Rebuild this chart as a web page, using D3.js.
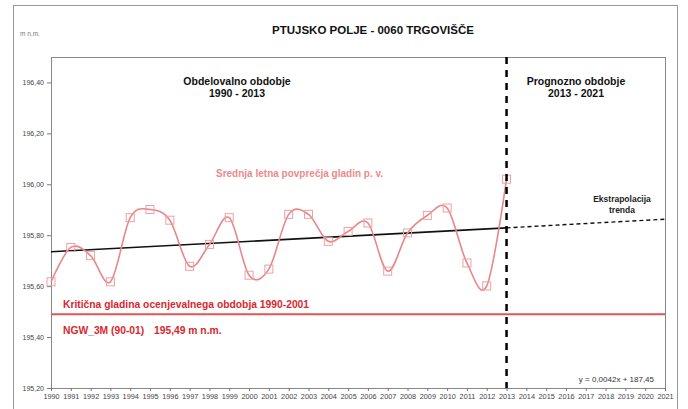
<html>
<head>
<script src="https://d3js.org/d3.v7.min.js"></script>
<style>
body { margin: 0; background: #fff; }
text { font-family: "Liberation Sans", Arial, sans-serif; }
.axis .domain { stroke: none; }
.axis line { stroke: #777; }
.axis text { fill: #444; }
</style>
</head>
<body>
<svg id="chart" width="688" height="409"></svg>
<script>
// annual mean groundwater levels (m n.m.)
const years = [1990, 1991, 1992, 1993, 1994, 1995, 1996, 1997, 1998, 1999, 2000, 2001,
               2002, 2003, 2004, 2005, 2006, 2007, 2008, 2009, 2010, 2011, 2012, 2013];
const levels = [195.617, 195.752, 195.720, 195.617, 195.869, 195.901, 195.859, 195.678,
                195.764, 195.869, 195.643, 195.667, 195.882, 195.882, 195.776, 195.815,
                195.848, 195.659, 195.809, 195.878, 195.907, 195.691, 195.601, 196.020];

// linear trend (observed part and extrapolation)
const trendYears = [1990, 2013];
const trendValues = [195.735, 195.829];
const extrapYears = [2013, 2021];
const extrapValues = [195.829, 195.863];

const criticalLevel = 195.49;
const splitYear = 2013;
const yTicks = [195.2, 195.4, 195.6, 195.8, 196.0, 196.2, 196.4];
const xTicks = d3.range(1990, 2022);

const svg = d3.select("svg#chart");
const margin = {top: 57, right: 23, bottom: 21, left: 51};
const width = +svg.attr("width");
const height = +svg.attr("height");
const chartWidth = width - margin.left - margin.right;
const chartHeight = height - margin.top - margin.bottom;

// outer frame
svg.append("rect")
    .attr("x", 13.5).attr("y", 5.5)
    .attr("width", 664).attr("height", 420)
    .attr("fill", "none").attr("stroke", "#999");

const xScale = d3.scaleLinear().domain([1990, 2021]).range([0, chartWidth]);
const yScale = d3.scaleLinear().domain([195.2, 196.5]).range([chartHeight, 0]);
const fmt = d => d3.format(".2f")(d).replace(".", ",");

const chartArea = svg.append("g")
    .attr("transform", `translate(${margin.left},${margin.top})`);

// plot area border
chartArea.append("rect")
    .attr("x", 0.5).attr("y", 0.5)
    .attr("width", chartWidth).attr("height", chartHeight)
    .attr("fill", "none").attr("stroke", "#888");

chartArea.append("g")
    .attr("class", "axis")
    .call(d3.axisLeft(yScale).tickValues(yTicks).tickSize(4).tickPadding(3).tickFormat(fmt))
    .selectAll("text").style("font-size", "7px");

chartArea.append("g")
    .attr("class", "axis")
    .attr("transform", `translate(0,${chartHeight})`)
    .call(d3.axisBottom(xScale).tickValues(xTicks).tickSize(3).tickPadding(3).tickFormat(d3.format("d")))
    .selectAll("text").style("font-size", "7.3px");

// critical level
chartArea.append("line")
    .attr("x1", 0).attr("x2", chartWidth)
    .attr("y1", yScale(criticalLevel)).attr("y2", yScale(criticalLevel))
    .attr("stroke", "#e05555").attr("stroke-width", 2);

// trend lines
const lineGen = d3.line()
    .x(d => xScale(d[0]))
    .y(d => yScale(d[1]));

chartArea.append("path")
    .attr("d", lineGen(d3.zip(trendYears, trendValues)))
    .attr("fill", "none").attr("stroke", "#111").attr("stroke-width", 1.6);

chartArea.append("path")
    .attr("d", lineGen(d3.zip(extrapYears, extrapValues)))
    .attr("fill", "none").attr("stroke", "#111").attr("stroke-width", 1.4)
    .attr("stroke-dasharray", "4,3");

// observed series
const smoothLine = d3.line()
    .x(d => xScale(d[0]))
    .y(d => yScale(d[1]))
    .curve(d3.curveCardinal.tension(0));

chartArea.append("path")
    .attr("d", smoothLine(d3.zip(years, levels)))
    .attr("fill", "none").attr("stroke", "#e8868a").attr("stroke-width", 1.6);

chartArea.selectAll("rect.pt")
    .data(d3.zip(years, levels))
    .join("rect")
    .attr("class", "pt")
    .attr("x", d => xScale(d[0]) - 4)
    .attr("y", d => yScale(d[1]) - 4)
    .attr("width", 8).attr("height", 8)
    .attr("fill", "none").attr("stroke", "#eea0a3").attr("stroke-width", 1);

// separator between periods
chartArea.append("line")
    .attr("x1", xScale(splitYear)).attr("x2", xScale(splitYear))
    .attr("y1", 0).attr("y2", chartHeight)
    .attr("stroke", "#000").attr("stroke-width", 2.5)
    .attr("stroke-dasharray", "7,6");

// annotations
let annotations = svg.append("g").attr("id", "annotations");

annotations.append("text")
    .attr("x", 20).attr("y", 36)
    .style("font-size", "6.5px").attr("fill", "#777")
    .text("m n.m.");

annotations.append("text")
    .attr("x", 373).attr("y", 34)
    .attr("text-anchor", "middle")
    .style("font-size", "11.5px").style("font-weight", "bold").attr("fill", "#111")
    .text("PTUJSKO POLJE - 0060 TRGOVIŠČE");

const periodLabels = [
    {x: 237, lines: ["Obdelovalno obdobje", "1990 - 2013"]},
    {x: 576, lines: ["Prognozno obdobje", "2013 - 2021"]}
];
periodLabels.forEach(p => {
    p.lines.forEach((t, i) => {
        annotations.append("text")
            .attr("x", p.x).attr("y", 85 + i * 12)
            .attr("text-anchor", "middle")
            .style("font-size", "10.5px").style("font-weight", "bold").attr("fill", "#111")
            .text(t);
    });
});

annotations.append("text")
    .attr("x", 216).attr("y", 177)
    .style("font-size", "10px").style("font-weight", "bold").attr("fill", "#ec8a8d")
    .text("Srednja letna povprečja gladin p. v.");

["Ekstrapolacija", "trenda"].forEach((t, i) => {
    annotations.append("text")
        .attr("x", 622).attr("y", 202 + i * 11)
        .attr("text-anchor", "middle")
        .style("font-size", "8.5px").style("font-weight", "bold").attr("fill", "#222")
        .text(t);
});

annotations.append("text")
    .attr("x", 63).attr("y", 308)
    .style("font-size", "10.3px").style("font-weight", "bold").attr("fill", "#d8282e")
    .text("Kritična gladina ocenjevalnega obdobja 1990-2001");

annotations.append("text")
    .attr("x", 63).attr("y", 334)
    .style("font-size", "10.3px").style("font-weight", "bold").attr("fill", "#d8282e")
    .text("NGW_3M (90-01)");

annotations.append("text")
    .attr("x", 154).attr("y", 334)
    .style("font-size", "10.3px").style("font-weight", "bold").attr("fill", "#d8282e")
    .text("195,49 m n.m.");

annotations.append("text")
    .attr("x", 654).attr("y", 382)
    .attr("text-anchor", "end")
    .style("font-size", "8px").attr("fill", "#333")
    .text("y = 0,0042x + 187,45");
</script>
</body>
</html>
